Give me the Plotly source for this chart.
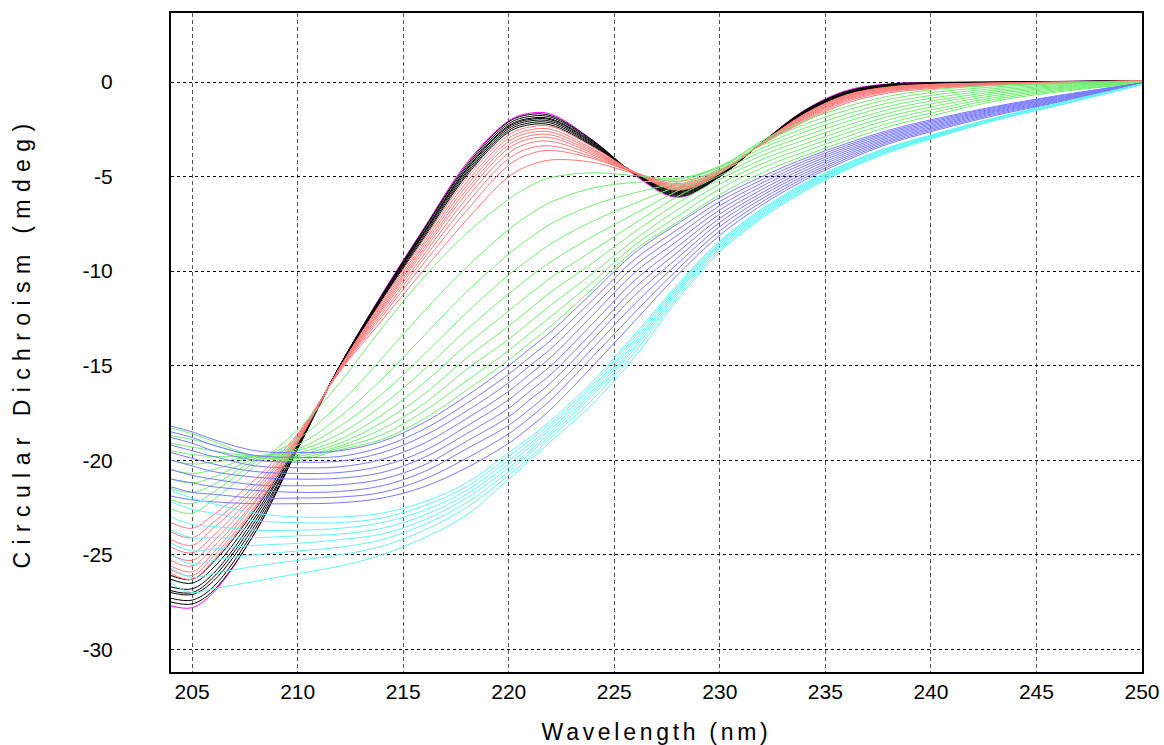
import plotly.graph_objects as go

wavelength = [204, 205, 206, 208, 210, 212, 214, 216, 218, 220, 221, 222, 224, 226,
              228, 230, 232, 234, 236, 238, 240, 243, 246, 250]

magenta_curve = [-27.7, -27.8, -27.0, -23.8, -19.4, -15.0, -11.2, -7.7, -4.3, -2.05, -1.65, -1.7,
                 -3.1, -4.95, -6.1, -5.0, -3.2, -1.5, -0.45, -0.1, -0.02, 0.0, 0.03, 0.08]

black_curves = [
    [-27.5, -27.6, -26.9, -23.8, -19.4, -15.0, -11.25, -7.75, -4.4, -2.1, -1.72, -1.78, -3.1, -4.9, -6.05, -5.0, -3.2, -1.52, -0.5, -0.12, -0.04, 0.0, 0.03, 0.07],
    [-27.3, -27.4, -26.7, -23.6, -19.4, -15.0, -11.3, -7.8, -4.5, -2.2, -1.82, -1.86, -3.15, -4.9, -6.0, -4.97, -3.2, -1.54, -0.52, -0.14, -0.05, -0.01, 0.02, 0.07],
    [-27.0, -27.1, -26.4, -23.4, -19.3, -15.0, -11.3, -7.9, -4.6, -2.3, -1.92, -1.95, -3.2, -4.88, -5.95, -4.95, -3.2, -1.56, -0.55, -0.15, -0.06, -0.02, 0.02, 0.06],
    [-26.9, -27.0, -26.2, -23.2, -19.3, -15.0, -11.35, -7.95, -4.65, -2.36, -1.98, -2.0, -3.25, -4.86, -5.9, -4.92, -3.2, -1.58, -0.57, -0.17, -0.07, -0.02, 0.01, 0.06],
    [-26.7, -26.8, -26.0, -23.0, -19.2, -15.0, -11.4, -8.0, -4.75, -2.45, -2.06, -2.08, -3.3, -4.84, -5.85, -4.9, -3.2, -1.6, -0.6, -0.19, -0.08, -0.03, 0.01, 0.05],
    [-26.3, -26.5, -25.7, -22.8, -19.2, -15.0, -11.45, -8.1, -4.85, -2.55, -2.16, -2.17, -3.35, -4.82, -5.8, -4.87, -3.2, -1.63, -0.62, -0.21, -0.09, -0.03, 0.0, 0.05],
    [-26.1, -26.3, -25.4, -22.6, -19.1, -15.05, -11.5, -8.2, -4.95, -2.65, -2.26, -2.27, -3.4, -4.8, -5.75, -4.85, -3.2, -1.66, -0.65, -0.23, -0.1, -0.04, 0.0, 0.05],
]

red_curves = [
    [-26.0, -26.3, -25.3, -22.5, -19.1, -15.1, -11.6, -8.3, -5.1, -2.8, -2.38, -2.35, -3.45, -4.8, -5.72, -4.84, -3.2, -1.7, -0.68, -0.26, -0.12, -0.05, 0.0, 0.06],
    [-25.8, -26.1, -25.1, -22.4, -19.0, -15.1, -11.7, -8.45, -5.3, -2.97, -2.53, -2.5, -3.55, -4.8, -5.68, -4.82, -3.21, -1.74, -0.72, -0.29, -0.14, -0.06, -0.01, 0.06],
    [-25.6, -25.9, -24.9, -22.2, -19.0, -15.1, -11.8, -8.6, -5.5, -3.14, -2.68, -2.65, -3.62, -4.8, -5.64, -4.8, -3.22, -1.78, -0.76, -0.32, -0.16, -0.07, -0.01, 0.05],
    [-25.3, -25.6, -24.6, -22.1, -18.9, -15.15, -11.9, -8.75, -5.7, -3.32, -2.84, -2.8, -3.7, -4.8, -5.6, -4.78, -3.23, -1.82, -0.8, -0.35, -0.18, -0.08, -0.02, 0.05],
    [-25.0, -25.3, -24.3, -21.9, -18.9, -15.15, -12.0, -8.9, -5.9, -3.5, -3.0, -2.95, -3.78, -4.8, -5.55, -4.76, -3.24, -1.87, -0.85, -0.38, -0.2, -0.09, -0.02, 0.05],
    [-24.6, -24.9, -24.0, -21.7, -18.8, -15.2, -12.1, -9.1, -6.15, -3.75, -3.22, -3.14, -3.87, -4.8, -5.5, -4.74, -3.25, -1.92, -0.9, -0.42, -0.23, -0.1, -0.03, 0.04],
    [-24.2, -24.5, -23.6, -21.5, -18.8, -15.2, -12.25, -9.3, -6.45, -4.05, -3.5, -3.38, -3.97, -4.8, -5.44, -4.72, -3.26, -1.97, -0.96, -0.46, -0.26, -0.12, -0.04, 0.04],
    [-23.8, -24.1, -23.3, -21.3, -18.7, -15.25, -12.4, -9.55, -6.8, -4.4, -3.8, -3.62, -4.05, -4.8, -5.37, -4.7, -3.27, -2.03, -1.03, -0.51, -0.3, -0.14, -0.05, 0.03],
    [-23.3, -23.6, -22.9, -21.0, -18.6, -15.3, -12.6, -9.9, -7.3, -5.0, -4.4, -4.12, -4.25, -4.85, -5.25, -4.66, -3.3, -2.1, -1.12, -0.58, -0.35, -0.17, -0.07, 0.03],
]

green_curves = [
    [-22.6, -22.8, -22.1, -20.3, -18.4, -15.9, -13.0, -10.3, -8.0, -6.2, -5.5, -5.05, -4.8, -4.95, -5.1, -4.5, -3.1, -2.05, -1.3, -0.75, -0.42, -0.18, -0.06, 0.03],
    [-22.1, -22.3, -21.7, -20.1, -18.9, -17.0, -14.6, -12.1, -9.8, -7.8, -7.0, -6.35, -5.6, -5.3, -5.15, -4.45, -3.2, -2.25, -1.5, -0.92, -0.56, -0.26, -0.1, 0.02],
    [-21.5, -21.7, -21.3, -20.0, -19.2, -17.7, -15.7, -13.4, -11.1, -9.1, -8.25, -7.5, -6.5, -5.85, -5.3, -4.5, -3.35, -2.45, -1.7, -1.1, -0.71, -0.35, -0.15, 0.01],
    [-21.0, -21.2, -20.9, -19.9, -19.4, -18.2, -16.5, -14.4, -12.2, -10.2, -9.35, -8.55, -7.35, -6.4, -5.5, -4.6, -3.5, -2.65, -1.9, -1.28, -0.86, -0.44, -0.2, 0.0],
    [-20.5, -20.7, -20.5, -19.8, -19.5, -18.6, -17.1, -15.2, -13.1, -11.2, -10.3, -9.5, -8.15, -6.95, -5.75, -4.75, -3.68, -2.86, -2.1, -1.46, -1.01, -0.53, -0.25, -0.01],
    [-20.0, -20.2, -20.1, -19.8, -19.6, -18.9, -17.6, -15.9, -13.9, -12.1, -11.2, -10.35, -8.9, -7.45, -6.05, -4.95, -3.88, -3.07, -2.3, -1.64, -1.16, -0.62, -0.3, -0.02],
    [-19.5, -19.7, -19.8, -19.8, -19.7, -19.1, -18.0, -16.5, -14.6, -12.9, -12.0, -11.1, -9.55, -7.9, -6.4, -5.15, -4.1, -3.28, -2.5, -1.82, -1.32, -0.72, -0.35, -0.03],
    [-19.1, -19.3, -19.5, -19.8, -19.8, -19.25, -18.35, -17.0, -15.2, -13.6, -12.7, -11.8, -10.1, -8.3, -6.75, -5.4, -4.32, -3.48, -2.7, -2.0, -1.48, -0.82, -0.41, -0.04],
    [-18.7, -18.9, -19.2, -19.8, -19.9, -19.35, -18.65, -17.4, -15.8, -14.2, -13.3, -12.4, -10.55, -8.6, -7.1, -5.65, -4.54, -3.69, -2.9, -2.18, -1.64, -0.92, -0.47, -0.05],
    [-18.3, -18.6, -19.0, -19.8, -20.0, -19.45, -18.9, -17.8, -16.3, -14.7, -13.8, -12.9, -10.9, -8.85, -7.4, -5.95, -4.8, -3.9, -3.1, -2.36, -1.8, -1.02, -0.53, -0.06],
]

blue_curves = [
    [-18.2, -18.5, -18.9, -19.5, -19.6, -19.5, -19.0, -18.0, -16.6, -15.0, -14.1, -13.2, -11.1, -9.0, -7.5, -6.1, -5.0, -4.05, -3.25, -2.55, -2.0, -1.3, -0.72, -0.05],
    [-18.5, -18.8, -19.2, -19.75, -19.85, -19.8, -19.3, -18.35, -17.0, -15.45, -14.55, -13.65, -11.5, -9.35, -7.8, -6.32, -5.17, -4.18, -3.35, -2.63, -2.07, -1.35, -0.76, -0.05],
    [-18.8, -19.1, -19.5, -20.0, -20.1, -20.05, -19.6, -18.7, -17.4, -15.9, -15.0, -14.1, -11.9, -9.7, -8.1, -6.54, -5.34, -4.31, -3.45, -2.71, -2.14, -1.4, -0.8, -0.06],
    [-19.2, -19.5, -19.8, -20.3, -20.4, -20.35, -19.95, -19.1, -17.8, -16.35, -15.45, -14.55, -12.3, -10.05, -8.4, -6.76, -5.51, -4.44, -3.55, -2.79, -2.21, -1.45, -0.84, -0.06],
    [-19.6, -19.9, -20.2, -20.6, -20.7, -20.65, -20.3, -19.5, -18.2, -16.8, -15.9, -15.0, -12.75, -10.45, -8.7, -6.98, -5.68, -4.57, -3.65, -2.87, -2.28, -1.5, -0.88, -0.07],
    [-20.0, -20.3, -20.6, -20.9, -21.0, -20.95, -20.65, -19.85, -18.6, -17.25, -16.35, -15.45, -13.2, -10.85, -9.0, -7.2, -5.85, -4.7, -3.75, -2.95, -2.35, -1.55, -0.92, -0.07],
    [-20.5, -20.8, -21.0, -21.3, -21.35, -21.3, -21.0, -20.25, -19.0, -17.7, -16.8, -15.9, -13.6, -11.25, -9.3, -7.42, -6.0, -4.83, -3.85, -3.03, -2.42, -1.6, -0.96, -0.08],
    [-21.0, -21.2, -21.4, -21.6, -21.7, -21.65, -21.35, -20.6, -19.4, -18.15, -17.3, -16.35, -14.05, -11.7, -9.6, -7.64, -6.17, -4.96, -3.95, -3.11, -2.49, -1.66, -1.0, -0.08],
    [-21.4, -21.7, -21.8, -22.0, -22.0, -21.95, -21.7, -21.0, -19.9, -18.6, -17.75, -16.8, -14.5, -12.15, -9.9, -7.87, -6.34, -5.08, -4.05, -3.19, -2.56, -1.72, -1.04, -0.09],
    [-21.9, -22.1, -22.2, -22.3, -22.3, -22.25, -22.0, -21.4, -20.4, -19.1, -18.25, -17.3, -15.0, -12.6, -10.2, -8.1, -6.5, -5.2, -4.15, -3.27, -2.63, -1.78, -1.08, -0.09],
]

cyan_curves = [
    [-21.6, -22.0, -22.3, -22.8, -23.0, -23.0, -22.8, -22.2, -21.2, -19.6, -18.8, -17.9, -15.8, -13.3, -10.7, -8.4, -6.7, -5.35, -4.3, -3.45, -2.8, -1.9, -1.12, -0.1],
    [-22.2, -22.6, -22.8, -23.2, -23.3, -23.3, -23.05, -22.4, -21.4, -19.8, -18.95, -18.05, -15.95, -13.45, -10.8, -8.47, -6.77, -5.41, -4.35, -3.49, -2.83, -1.92, -1.14, -0.1],
    [-23.0, -23.4, -23.5, -23.7, -23.7, -23.6, -23.3, -22.65, -21.6, -20.0, -19.15, -18.2, -16.1, -13.6, -10.9, -8.55, -6.84, -5.47, -4.4, -3.53, -2.86, -1.94, -1.15, -0.11],
    [-23.7, -24.1, -24.1, -24.1, -24.0, -23.9, -23.6, -22.9, -21.8, -20.2, -19.3, -18.35, -16.25, -13.75, -11.0, -8.63, -6.91, -5.53, -4.45, -3.57, -2.89, -1.96, -1.17, -0.11],
    [-24.4, -24.8, -24.7, -24.5, -24.4, -24.2, -23.9, -23.15, -22.0, -20.4, -19.5, -18.5, -16.4, -13.9, -11.1, -8.71, -6.98, -5.59, -4.5, -3.61, -2.92, -1.98, -1.19, -0.12],
    [-25.0, -25.5, -25.3, -25.0, -24.8, -24.6, -24.2, -23.4, -22.25, -20.6, -19.65, -18.65, -16.55, -14.05, -11.2, -8.8, -7.05, -5.65, -4.55, -3.65, -2.95, -2.0, -1.21, -0.12],
    [-25.7, -26.2, -26.0, -25.6, -25.3, -25.0, -24.55, -23.7, -22.5, -20.8, -19.85, -18.8, -16.75, -14.25, -11.35, -8.9, -7.12, -5.72, -4.6, -3.69, -2.98, -2.02, -1.23, -0.13],
    [-26.5, -27.0, -26.8, -26.4, -26.0, -25.6, -25.0, -24.1, -22.9, -21.0, -20.0, -19.0, -17.0, -14.5, -11.5, -9.0, -7.2, -5.8, -4.65, -3.73, -3.02, -2.05, -1.25, -0.14],
]

x_ticks = [205, 210, 215, 220, 225, 230, 235, 240, 245, 250]
y_ticks = [0, -5, -10, -15, -20, -25, -30]

groups = [
    ("magenta", [magenta_curve], "rgb(255,0,255)"),
    ("black", black_curves, "rgb(0,0,0)"),
    ("red", red_curves, "rgb(255,120,120)"),
    ("green", green_curves, "rgb(112,238,112)"),
    ("blue", blue_curves, "rgb(120,120,255)"),
    ("cyan", cyan_curves, "rgb(100,245,245)"),
]

fig = go.Figure()
for name, curves, color in groups:
    for i, ys in enumerate(curves):
        fig.add_trace(go.Scatter(
            x=wavelength, y=ys, mode="lines", name=f"{name} {i + 1}",
            line=dict(color=color, width=1, shape="spline", smoothing=1.0),
            showlegend=False, hoverinfo="skip"))

tick_font = dict(family="Liberation Sans, Arial, sans-serif", size=21, color="black")
title_font = dict(family="Liberation Sans, Arial, sans-serif", size=23, color="black")

fig.update_layout(
    width=1164, height=745,
    margin=dict(l=171, r=22, t=13, b=73),
    paper_bgcolor="white", plot_bgcolor="white",
    showlegend=False,
)
fig.update_xaxes(
    range=[204, 250], tickvals=x_ticks, ticktext=[str(v) for v in x_ticks],
    tickfont=tick_font, ticks="", ticklabelstandoff=0, automargin=False,
    showgrid=True, gridcolor="#555555", gridwidth=1, griddash="4px,3px",
    showline=True, linecolor="black", linewidth=2, mirror=True, zeroline=False,
    title=dict(text='<span style="letter-spacing:3.7px">Wavelength (nm)</span>',
               font=title_font, standoff=22),
)
fig.update_yaxes(
    range=[-31.2, 3.65], tickvals=y_ticks, ticktext=[str(v) for v in y_ticks],
    tickfont=tick_font, ticks="", ticklabelstandoff=52, automargin=False,
    showgrid=True, gridcolor="black", gridwidth=1, griddash="3px,3px",
    showline=True, linecolor="black", linewidth=2, mirror=True, zeroline=False,
    title=dict(text='<span style="letter-spacing:7.4px">Circular Dichroism (mdeg)</span>',
               font=title_font, standoff=45),
)

fig.write_html("out.html")
